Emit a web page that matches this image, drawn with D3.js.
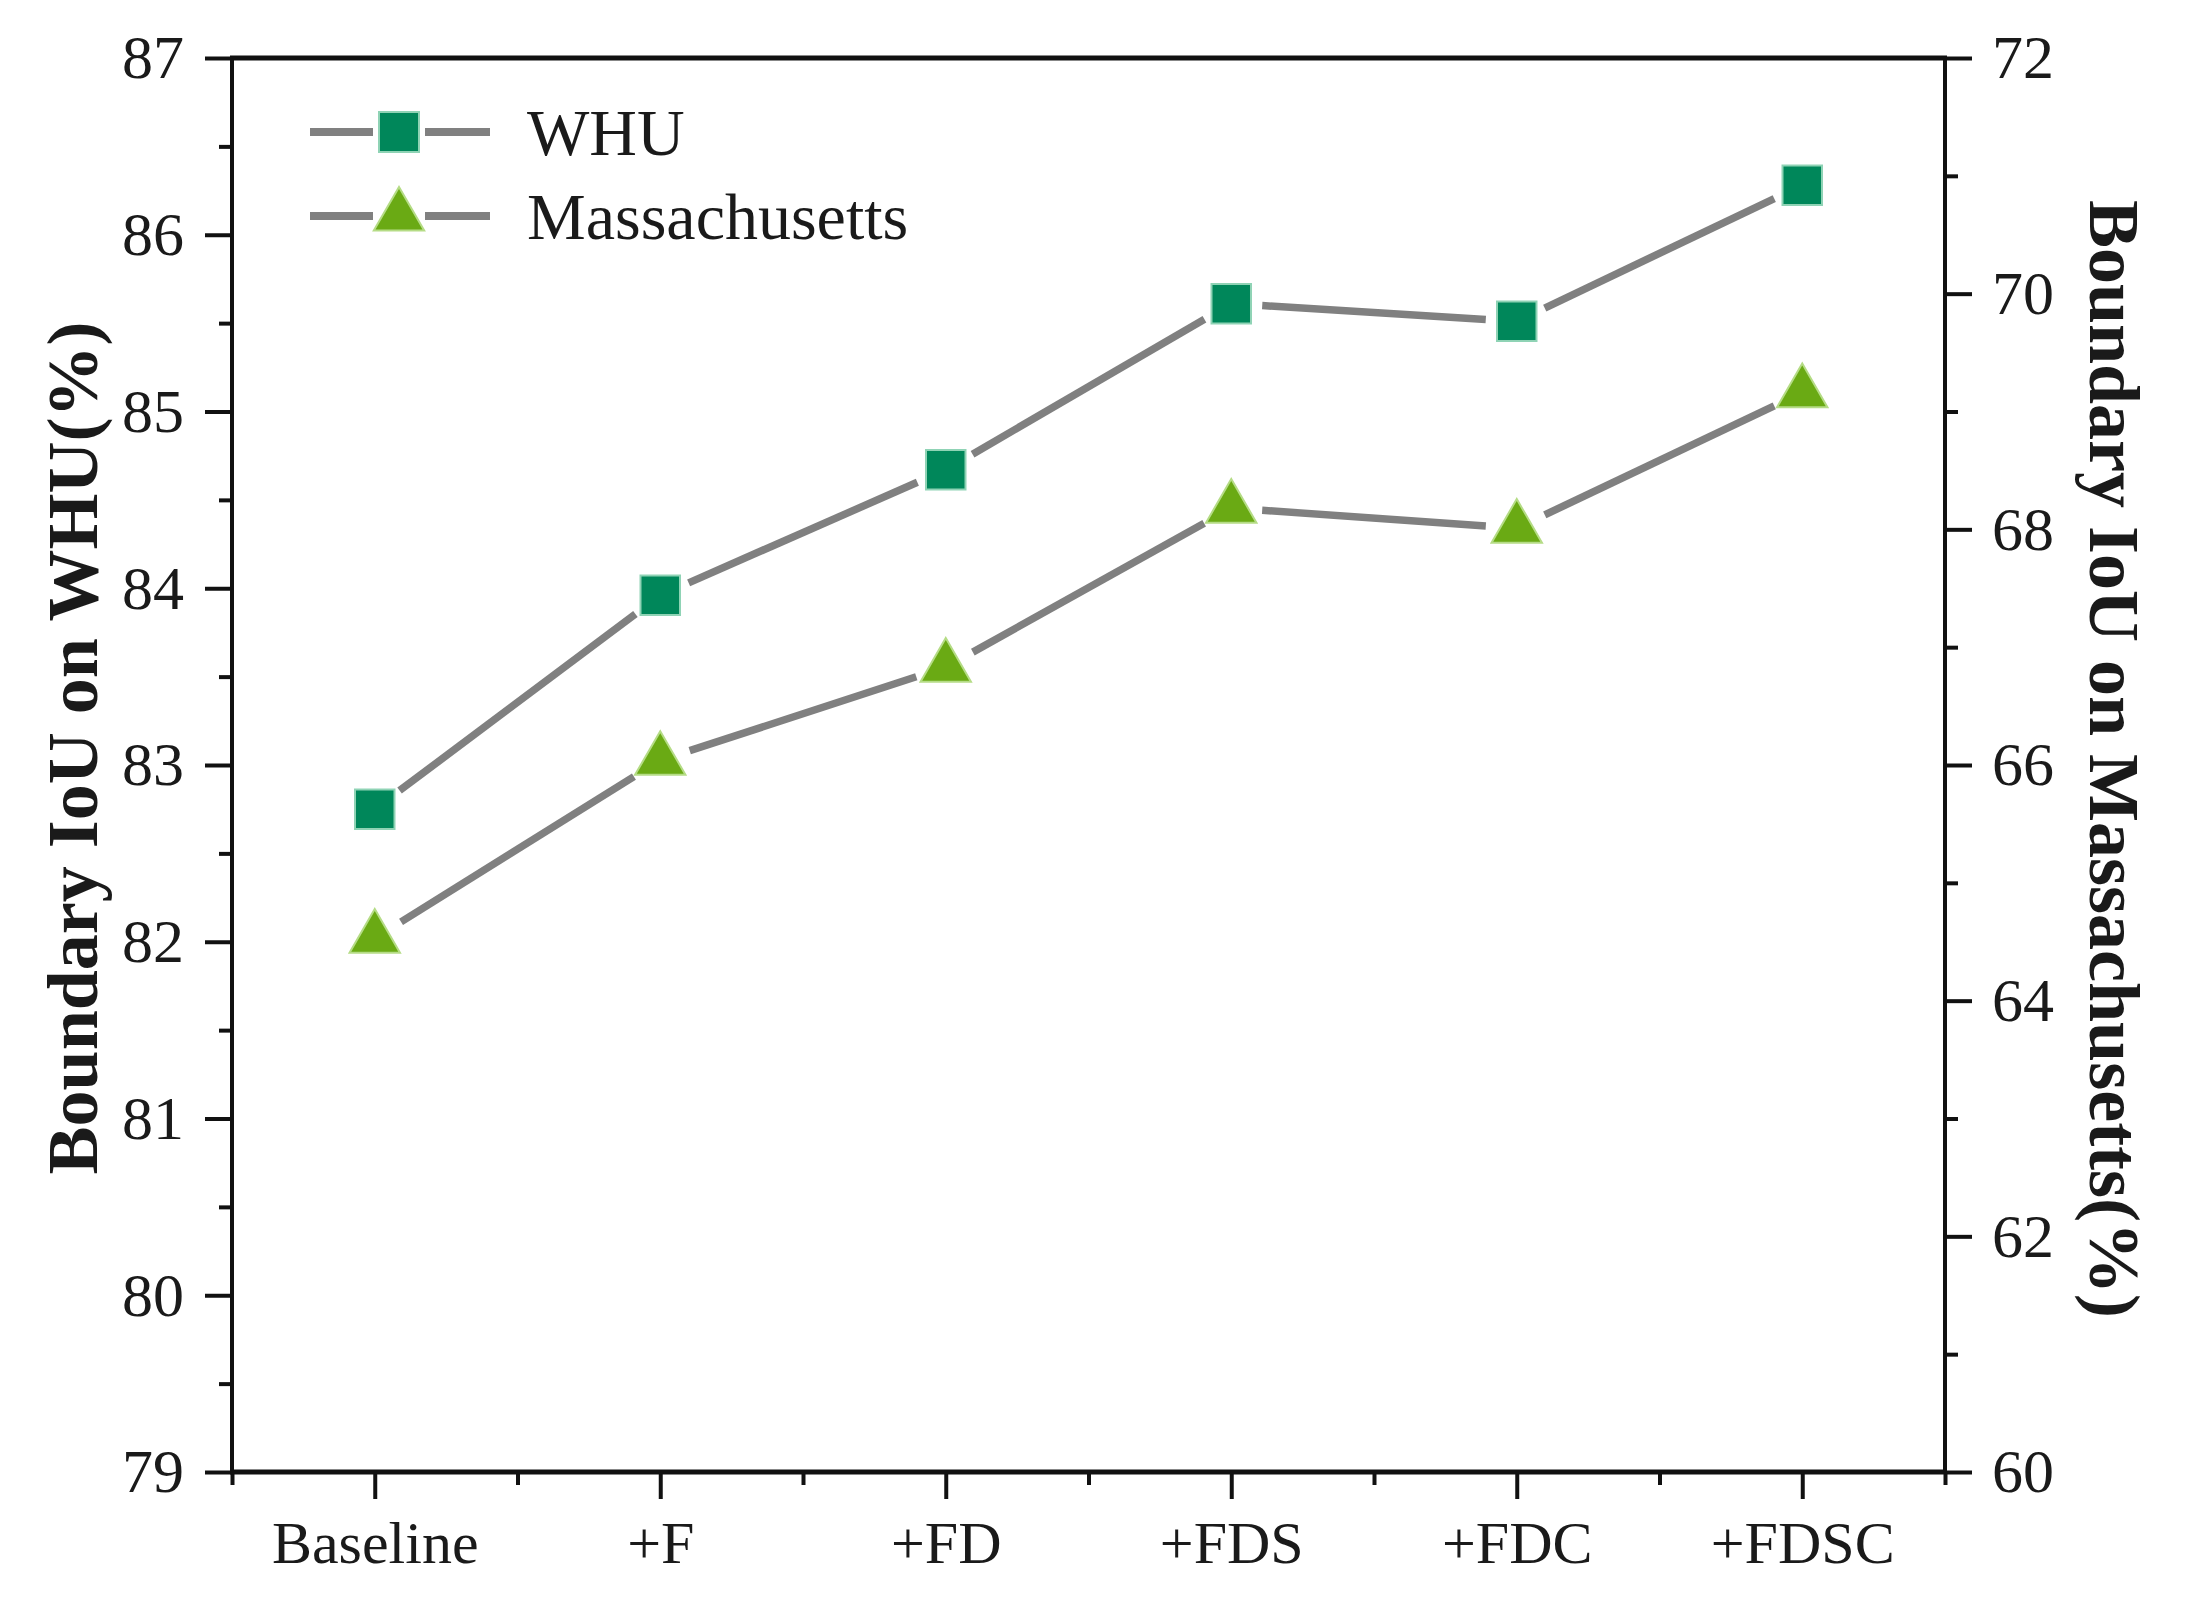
<!DOCTYPE html>
<html>
<head>
<meta charset="utf-8">
<script src="https://cdn.jsdelivr.net/npm/d3@7"></script>
<style>
  body { margin: 0; background: #fff; }
  svg { display: block; }
  text { font-family: "Liberation Serif", "Times New Roman", serif; fill: #1a1a1a; }
</style>
</head>
<body>
<div id="chart"></div>
<script>
const categories = ['Baseline', '+F', '+FD', '+FDS', '+FDC', '+FDSC'];
const whuValues = [82.75, 83.96, 84.67, 85.61, 85.51, 86.28];
const massValues = [64.53, 66.04, 66.83, 68.18, 68.01, 69.16];
const leftTicks = [79, 80, 81, 82, 83, 84, 85, 86, 87];
const leftMinor = [79.5, 80.5, 81.5, 82.5, 83.5, 84.5, 85.5, 86.5];
const rightTicks = [60, 62, 64, 66, 68, 70, 72];
const rightMinor = [61, 63, 65, 67, 69, 71];

const width = 2186;
const height = 1603;
const plot = { left: 232, right: 1945, top: 58, bottom: 1472 };
const lineColor = '#808080';
const whuColor = '#00875a';
const massColor = '#6aaa14';
const axisColor = '#111';

const svg = d3.select('#chart')
  .append('svg')
  .attr('width', width)
  .attr('height', height);

svg.append('rect')
  .attr('width', width)
  .attr('height', height)
  .attr('fill', '#fff');

const xScale = d3.scaleLinear()
  .domain([0.5, categories.length + 0.5])
  .range([plot.left, plot.right]);

const yLeft = d3.scaleLinear()
  .domain([79, 87])
  .range([plot.bottom, plot.top]);

const yRight = d3.scaleLinear()
  .domain([60, 72])
  .range([plot.bottom, plot.top]);

function styleAxis(g, fontSize) {
  g.select('.domain').remove();
  g.selectAll('.tick line').attr('stroke', axisColor).attr('stroke-width', 4);
  g.selectAll('.tick text')
    .style('font-size', fontSize + 'px')
    .attr('fill', '#1a1a1a');
}

// minor ticks first so major ones sit on top
const leftMinorAxis = svg.append('g')
  .attr('transform', `translate(${plot.left}, 0)`)
  .call(d3.axisLeft(yLeft).tickValues(leftMinor).tickSize(13).tickFormat(''));
styleAxis(leftMinorAxis, 62);

const leftAxis = svg.append('g')
  .attr('transform', `translate(${plot.left}, 0)`)
  .call(d3.axisLeft(yLeft).tickValues(leftTicks).tickSize(27).tickPadding(21).tickFormat(d3.format('d')));
styleAxis(leftAxis, 62);

const rightMinorAxis = svg.append('g')
  .attr('transform', `translate(${plot.right}, 0)`)
  .call(d3.axisRight(yRight).tickValues(rightMinor).tickSize(13).tickFormat(''));
styleAxis(rightMinorAxis, 62);

const rightAxis = svg.append('g')
  .attr('transform', `translate(${plot.right}, 0)`)
  .call(d3.axisRight(yRight).tickValues(rightTicks).tickSize(27).tickPadding(20).tickFormat(d3.format('d')));
styleAxis(rightAxis, 62);

const bottomMinor = d3.range(0, categories.length + 1).map(i => i + 0.5);
const bottomMinorAxis = svg.append('g')
  .attr('transform', `translate(0, ${plot.bottom})`)
  .call(d3.axisBottom(xScale).tickValues(bottomMinor).tickSize(13).tickFormat(''));
styleAxis(bottomMinorAxis, 60);

const bottomAxis = svg.append('g')
  .attr('transform', `translate(0, ${plot.bottom})`)
  .call(d3.axisBottom(xScale)
    .tickValues(d3.range(1, categories.length + 1))
    .tickSize(27)
    .tickPadding(21)
    .tickFormat(i => categories[i - 1]));
styleAxis(bottomAxis, 60);

// frame: sides a bit thinner than top and bottom
svg.append('line')
  .attr('x1', plot.left - 2).attr('x2', plot.right + 2)
  .attr('y1', plot.top).attr('y2', plot.top)
  .attr('stroke', axisColor).attr('stroke-width', 5);
svg.append('line')
  .attr('x1', plot.left - 2).attr('x2', plot.right + 2)
  .attr('y1', plot.bottom).attr('y2', plot.bottom)
  .attr('stroke', axisColor).attr('stroke-width', 5);
svg.append('line')
  .attr('x1', plot.left).attr('x2', plot.left)
  .attr('y1', plot.top).attr('y2', plot.bottom)
  .attr('stroke', axisColor).attr('stroke-width', 4);
svg.append('line')
  .attr('x1', plot.right).attr('x2', plot.right)
  .attr('y1', plot.top).attr('y2', plot.bottom)
  .attr('stroke', axisColor).attr('stroke-width', 4);

// connecting lines with a gap around each marker
const gap = 31;
function drawSeries(values, yScale, symbolType, size, fill, edge) {
  const pts = values.map((v, i) => [xScale(i + 1), yScale(v)]);
  const segs = d3.pairs(pts).map(([a, b]) => {
    const dx = b[0] - a[0], dy = b[1] - a[1];
    const len = Math.hypot(dx, dy);
    const ux = dx / len, uy = dy / len;
    return [a[0] + ux * gap, a[1] + uy * gap, b[0] - ux * gap, b[1] - uy * gap];
  });
  svg.append('g').selectAll('line')
    .data(segs)
    .join('line')
    .attr('x1', d => d[0]).attr('y1', d => d[1])
    .attr('x2', d => d[2]).attr('y2', d => d[3])
    .attr('stroke', lineColor)
    .attr('stroke-width', 7.5);

  svg.append('g').selectAll('path')
    .data(pts)
    .join('path')
    .attr('transform', d => `translate(${d[0]}, ${d[1]})`)
    .attr('d', d3.symbol(symbolType, size))
    .attr('fill', fill)
    .attr('stroke', edge)
    .attr('stroke-width', 2);
}

drawSeries(whuValues, yLeft, d3.symbolSquare, 1560, whuColor, '#8fd3b5');
drawSeries(massValues, yRight, d3.symbolTriangle, 1100, massColor, '#b5dc86');

// legend
const legendItems = [
  { label: 'WHU', symbol: d3.symbolSquare, size: 1600, fill: whuColor, edge: '#8fd3b5', y: 132 },
  { label: 'Massachusetts', symbol: d3.symbolTriangle, size: 1100, fill: massColor, edge: '#b5dc86', y: 216 }
];
const legend = svg.append('g');
legendItems.forEach(item => {
  legend.append('line')
    .attr('x1', 310).attr('x2', 373).attr('y1', item.y).attr('y2', item.y)
    .attr('stroke', lineColor).attr('stroke-width', 8);
  legend.append('line')
    .attr('x1', 425).attr('x2', 490).attr('y1', item.y).attr('y2', item.y)
    .attr('stroke', lineColor).attr('stroke-width', 8);
  legend.append('path')
    .attr('transform', `translate(399, ${item.y})`)
    .attr('d', d3.symbol(item.symbol, item.size))
    .attr('fill', item.fill)
    .attr('stroke', item.edge)
    .attr('stroke-width', 2);
  legend.append('text')
    .attr('x', 527)
    .attr('y', item.y)
    .attr('dy', '0.35em')
    .style('font-size', '66px')
    .text(item.label);
});

// axis titles
svg.append('text')
  .attr('transform', `translate(97, 748) rotate(-90)`)
  .attr('text-anchor', 'middle')
  .style('font-size', '72px')
  .style('font-weight', 'bold')
  .text('Boundary IoU on WHU(%)');

svg.append('text')
  .attr('transform', `translate(2090, 759) rotate(90)`)
  .attr('text-anchor', 'middle')
  .style('font-size', '72px')
  .style('font-weight', 'bold')
  .text('Boundary IoU on Massachusetts(%)');
</script>
</body>
</html>
